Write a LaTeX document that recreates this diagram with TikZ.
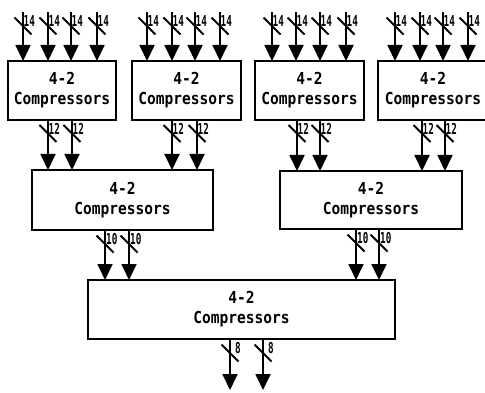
\documentclass[tikz,border=0pt]{standalone}
\usepackage{fontspec}
\usetikzlibrary{arrows.meta}
\newfontfamily\cmpfont{DejaVu Sans Mono}[FakeStretch=0.88]
\newfontfamily\lblfont{DejaVu Sans Mono}[FakeStretch=0.62]
\begin{document}
\begin{tikzpicture}[x=1pt,y=-1pt,
  cbox/.style={draw,line width=1.8pt,inner sep=0pt,outer sep=0pt,align=center,
    font=\cmpfont\bfseries\fontsize{16.5}{20}\selectfont},
  bus/.style={line width=1.8pt,-{Triangle[width=15pt,length=16pt]}},
  slashline/.style={line width=1.8pt},
  lbl/.style={font=\lblfont\bfseries\fontsize{15}{15}\selectfont,inner sep=0pt,anchor=west},
  pics/wsl/.style n args={2}{code={
    \draw[slashline] (-8.5,-8.5) -- (8.5,8.5);
    \node[lbl] at (#2,-4.5) {#1};}}
]
\useasboundingbox (0,0) rectangle (485,393);
\clip (0,0) rectangle (485,393);
% boxes
\node[cbox,minimum width=108pt,minimum height=59pt] (b1) at (62,90.5) {4-2\\Compressors};
\node[cbox,minimum width=109pt,minimum height=59pt] (b2) at (186.5,90.5) {4-2\\Compressors};
\node[cbox,minimum width=109pt,minimum height=59pt] (b3) at (309.5,90.5) {4-2\\Compressors};
\node[cbox,minimum width=110pt,minimum height=59pt] (b4) at (433,90.5) {4-2\\Compressors};
\node[cbox,minimum width=181pt,minimum height=60pt] (m1) at (122.5,200) {4-2\\Compressors};
\node[cbox,minimum width=182pt,minimum height=58pt] (m2) at (371,200) {4-2\\Compressors};
\node[cbox,minimum width=307pt,minimum height=59pt] (f) at (241.5,309.5) {4-2\\Compressors};
% inputs
\foreach \bx/\xs in {b1/{23,48,71,97},b2/{147,172,195,220},b3/{272,296,320,346},b4/{395,420,443,468}}{
  \foreach \x in \xs {
    \coordinate (s) at (\x,12);
    \draw[bus] (s) -- (\bx.north -| s);
    \path (s) ++(0,14) pic {wsl={14}{0.5}};
  }
}
% level 1 to level 2
\foreach \sa/\sb/\xs in {b1/m1/{48,72},b2/m1/{172,197},b3/m2/{297,320},b4/m2/{422,445}}{
  \foreach \x in \xs {
    \coordinate (t) at (\x,0);
    \draw[bus] (\sa.south -| t) -- (\sb.north -| t);
    \path (\sa.south -| t) ++(0,13.5) pic {wsl={12}{0.5}};
  }
}
% level 2 to level 3
\foreach \sa/\xs in {m1/{105,129},m2/{356,379}}{
  \foreach \x in \xs {
    \coordinate (u) at (\x,0);
    \draw[bus] (\sa.south -| u) -- (f.north -| u);
    \path (\sa.south -| u) ++(0,14) pic {wsl={10}{1}};
  }
}
% outputs
\foreach \x in {230,263}{
  \coordinate (o\x) at (\x,390);
  \draw[bus] (f.south -| o\x) -- (o\x);
  \path (f.south -| o\x) ++(0,14) pic {wsl={8}{5}};
}
\end{tikzpicture}
\end{document}
